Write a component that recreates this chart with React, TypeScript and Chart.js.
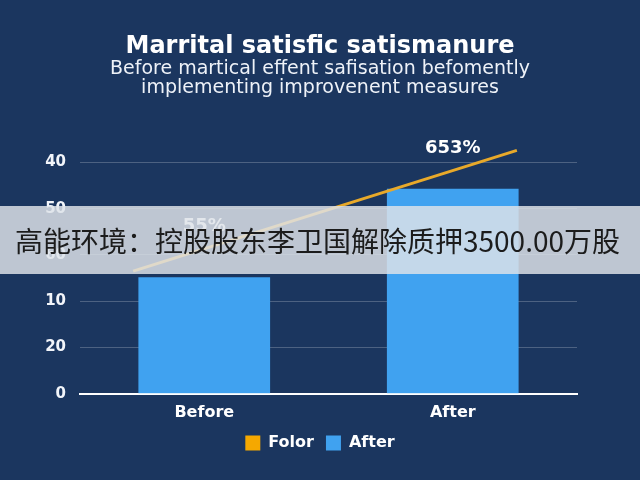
import { useEffect, useRef } from "react"
import { Chart, registerables } from "chart.js"

Chart.register(...registerables)

// categories / values (y units follow the odd tick order)
const categories = ["Before", "After"]
const barValues = [2.52, 4.43]
const valueLabels = ["55%", "653%"]
const lineX = [0.107, 0.879]
const lineY = [2.65, 5.26]
const yTickLabels = ["0", "20", "10", "60", "50", "40"]

const titleText = "Marrital satisfic satismanure"
const subtitleLines = [
  "Before martical effent safisation befomently",
  "implementing improvenent measures",
]
const bannerText = "高能环境：控股股东李卫国解除质押3500.00万股"

const NAVY = "#1b365f"
const BLUE = "#40a2f0"
const GOLD = "#e8a92a"
const FONT = "'DejaVu Sans', 'Open Sans', sans-serif"

// draws the % labels above the trend line at each bar
const valueLabelPlugin = {
  id: "valueLabels",
  afterDatasetsDraw(chart) {
    const ctx = chart.ctx
    const lineMeta = chart.getDatasetMeta(0)
    const barMeta = chart.getDatasetMeta(1)
    const p0 = lineMeta.data[0]
    const p1 = lineMeta.data[1]
    if (!p0 || !p1) return
    ctx.save()
    ctx.fillStyle = "#ffffff"
    ctx.font = `bold 18px ${FONT}`
    ctx.textAlign = "center"
    ctx.textBaseline = "middle"
    barMeta.data.forEach((bar, i) => {
      const t = (bar.x - p0.x) / (p1.x - p0.x)
      const y = p0.y + t * (p1.y - p0.y)
      ctx.fillText(valueLabels[i], bar.x, y - 22)
    })
    ctx.restore()
  },
}

export default function App() {
  const chartRef = useRef(null)
  const chartInstance = useRef(null)

  useEffect(() => {
    if (!chartRef.current) return
    if (chartInstance.current) chartInstance.current.destroy()

    const ctx = chartRef.current.getContext("2d")

    chartInstance.current = new Chart(ctx, {
      type: "bar",
      data: {
        labels: categories,
        datasets: [
          {
            type: "line",
            label: "Folor",
            data: lineX.map((x, i) => ({ x, y: lineY[i] })),
            xAxisID: "xl",
            borderColor: GOLD,
            backgroundColor: "#f5a800",
            borderWidth: 3,
            pointRadius: 0,
            clip: false,
            order: 0,
          },
          {
            type: "bar",
            label: "After",
            data: barValues,
            backgroundColor: BLUE,
            grouped: false,
            barPercentage: 1,
            categoryPercentage: 0.53,
            order: 1,
          },
        ],
      },
      options: {
        responsive: true,
        maintainAspectRatio: false,
        animation: false,
        layout: { padding: { bottom: 19 } },
        plugins: {
          title: {
            display: true,
            text: titleText,
            color: "#ffffff",
            font: { family: FONT, size: 24, weight: "bold", lineHeight: 1.1 },
            padding: { top: 34, bottom: 0 },
          },
          subtitle: {
            display: true,
            text: subtitleLines,
            color: "#eef2f8",
            font: { family: FONT, size: 19, lineHeight: 1.0 },
            padding: { top: -1, bottom: 65 },
          },
          legend: {
            position: "bottom",
            labels: {
              color: "#ffffff",
              font: { family: FONT, size: 16, weight: "bold" },
              boxWidth: 15,
              boxHeight: 15,
              padding: 12,
              generateLabels: (chart) =>
                Chart.defaults.plugins.legend.labels
                  .generateLabels(chart)
                  .map((item) => ({ ...item, lineWidth: 0, strokeStyle: "transparent" })),
            },
          },
          tooltip: { enabled: false },
        },
        scales: {
          x: {
            grid: { display: false },
            border: { display: true, color: "#ffffff", width: 2 },
            ticks: {
              color: "#ffffff",
              padding: 1,
              font: { family: FONT, size: 16, weight: "bold" },
            },
          },
          xl: {
            type: "linear",
            display: false,
            offset: false,
            min: 0,
            max: 1,
          },
          y: {
            min: 0,
            max: 5,
            afterFit: (scale) => {
              scale.width = 80
            },
            grid: { color: "rgba(255,255,255,0.22)", lineWidth: 1, drawTicks: false },
            border: { display: false },
            ticks: {
              stepSize: 1,
              padding: 14,
              color: "#f2f5fa",
              font: { family: FONT, size: 15, weight: "bold" },
              callback: (v) => yTickLabels[v] ?? "",
            },
          },
          yr: {
            position: "right",
            display: true,
            afterFit: (scale) => {
              scale.width = 63
            },
            grid: { display: false, drawTicks: false },
            border: { display: false },
            ticks: { display: false },
          },
        },
      },
      plugins: [valueLabelPlugin],
    })

    return () => {
      if (chartInstance.current) {
        chartInstance.current.destroy()
        chartInstance.current = null
      }
    }
  }, [])

  return (
    <div
      style={{
        position: "fixed",
        left: 0,
        top: 0,
        width: 640,
        height: 480,
        background: NAVY,
        overflow: "hidden",
      }}
    >
      <canvas ref={chartRef} />
      <div
        style={{
          position: "absolute",
          left: 0,
          top: 206,
          width: 640,
          height: 68,
          background: "rgba(222,226,232,0.84)",
          color: "#1c1c1c",
          fontFamily: "'Noto Sans CJK SC', sans-serif",
          fontSize: 28,
          lineHeight: "68px",
          paddingLeft: 15,
          boxSizing: "border-box",
          whiteSpace: "nowrap",
        }}
      >
        {bannerText}
      </div>
    </div>
  )
}
